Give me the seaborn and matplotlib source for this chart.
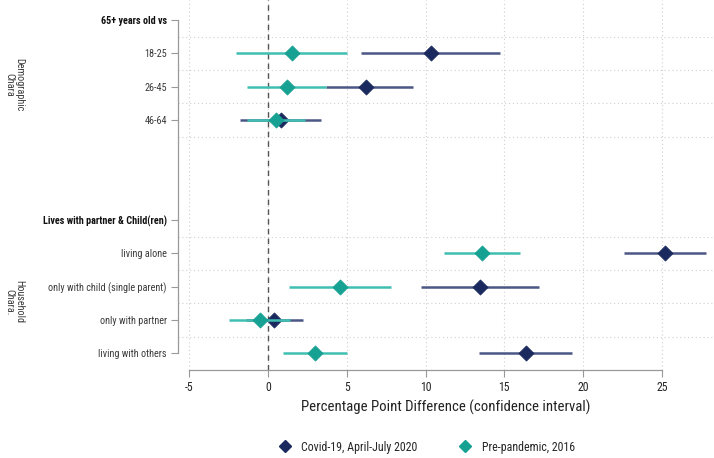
import matplotlib
matplotlib.use("Agg")
import matplotlib.pyplot as plt
from matplotlib.lines import Line2D
import seaborn as sns
import pandas as pd

# ── data ──────────────────────────────────────────────────────────────────────
row_labels = ["65+ years old vs", "18-25", "26-45", "46-64", "", "",
              "Lives with partner & Child(ren)", "living alone",
              "only with child (single parent)", "only with partner",
              "living with others"]
header_rows = [0, 6]
item_rows = [1, 2, 3, 7, 8, 9, 10]

covid_est = [10.35, 6.25, 0.85, 25.2, 13.45, 0.4, 16.4]
covid_lo = [5.9, 3.7, -1.75, 22.6, 9.7, -1.4, 13.4]
covid_hi = [14.7, 9.2, 3.35, 27.8, 17.2, 2.25, 19.3]

pre_est = [1.5, 1.2, 0.5, 13.6, 4.6, -0.5, 3.0]
pre_lo = [-2.05, -1.3, -1.35, 11.2, 1.35, -2.45, 0.95]
pre_hi = [5.0, 3.7, 2.35, 16.0, 7.8, 1.4, 5.05]

series_names = ["Covid-19, April-July 2020", "Pre-pandemic, 2016"]
x_ticks = [-5, 0, 5, 10, 15, 20, 25]

# ── style ─────────────────────────────────────────────────────────────────────
NAVY, NAVY_LINE = "#1b2a5e", "#4b5784"
TEAL, TEAL_LINE = "#17a193", "#3fbfb1"
GRID = "#cfcfcf"
TXT = "#3a3a3a"

sns.set_theme(style="white")
plt.rcParams["font.family"] = ["Roboto Condensed", "DejaVu Sans"]

df = pd.concat([
    pd.DataFrame({"row": item_rows, "est": covid_est, "lo": covid_lo,
                  "hi": covid_hi, "series": series_names[0]}),
    pd.DataFrame({"row": item_rows, "est": pre_est, "lo": pre_lo,
                  "hi": pre_hi, "series": series_names[1]}),
])

fig = plt.figure(figsize=(7.14, 4.58), dpi=100)
ax = fig.add_axes([178 / 714, 88 / 458, 536 / 714, 370 / 458])

# grid
for xt in x_ticks:
    ax.axvline(xt, color=GRID, lw=0.8, ls=(0, (1, 2.5)), zorder=0)
for yr in [0.5, 1.5, 2.5, 3.5, 6.5, 7.5, 8.5, 9.5]:
    ax.axhline(yr, color=GRID, lw=0.8, ls=(0, (1, 2.5)), zorder=0)
ax.axvline(0, color="#555555", lw=1.0, ls=(0, (4, 3)), zorder=1)

# confidence intervals and point estimates
colors = {series_names[0]: (NAVY, NAVY_LINE), series_names[1]: (TEAL, TEAL_LINE)}
for i, name in enumerate(series_names):
    sub = df[df["series"] == name]
    ax.hlines(sub["row"], sub["lo"], sub["hi"], color=colors[name][1],
              lw=1.8, zorder=2 + 2 * i)
    sns.scatterplot(data=sub, x="est", y="row", marker="D", s=60,
                    color=colors[name][0], edgecolor=colors[name][0],
                    linewidth=0.5, ax=ax, zorder=3 + 2 * i, legend=False)

ax.set_xlim(-5.7, 28.3)
ax.set_ylim(10.5, -0.6)

ticks = sorted(header_rows + item_rows)
ax.set_yticks(ticks)
ax.set_yticklabels([row_labels[r] for r in ticks], fontsize=7.3, color=TXT)
for r, lab, tk in zip(ticks, ax.get_yticklabels(), ax.yaxis.get_major_ticks()):
    if r in header_rows:
        lab.set_fontweight("bold")
        lab.set_color("#111111")
        tk.tick1line.set_visible(False)
ax.tick_params(axis="y", left=True, length=5, width=0.8, color="#999999",
               pad=3)
ax.set_xticks(x_ticks)
ax.set_xticklabels([str(t) for t in x_ticks], fontsize=8.5, color="#222222")
ax.tick_params(axis="x", bottom=True, length=5, width=0.8, color="#999999",
               pad=3)

ax.set_xlabel("Percentage Point Difference (confidence interval)",
              fontsize=10.6, color="#222222", labelpad=4)
ax.set_ylabel("")

for s in ["top", "right"]:
    ax.spines[s].set_visible(False)
ax.spines["left"].set_bounds(0, 10)
ax.spines["bottom"].set_bounds(-5, 25)
for s in ["left", "bottom"]:
    ax.spines[s].set_color("#999999")
    ax.spines[s].set_linewidth(0.9)

# group labels
fig.text(14 / 714, 1 - 85 / 458, "Demographic\nChara", rotation=-90,
         ha="center", va="center", fontsize=7.3, color=TXT,
         linespacing=0.95)
fig.text(14 / 714, 1 - 302 / 458, "Household\nChara.", rotation=-90,
         ha="center", va="center", fontsize=7.3, color=TXT,
         linespacing=0.95)

handles = [Line2D([], [], marker="D", ls="", color=NAVY, markersize=6),
           Line2D([], [], marker="D", ls="", color=TEAL, markersize=6)]
fig.legend(handles, series_names, loc="center",
           bbox_to_anchor=(424 / 714, 1 - 447 / 458), ncol=2, frameon=False,
           fontsize=8.6, handletextpad=0.4, columnspacing=3.0)

fig.savefig("out.png", dpi=100)
